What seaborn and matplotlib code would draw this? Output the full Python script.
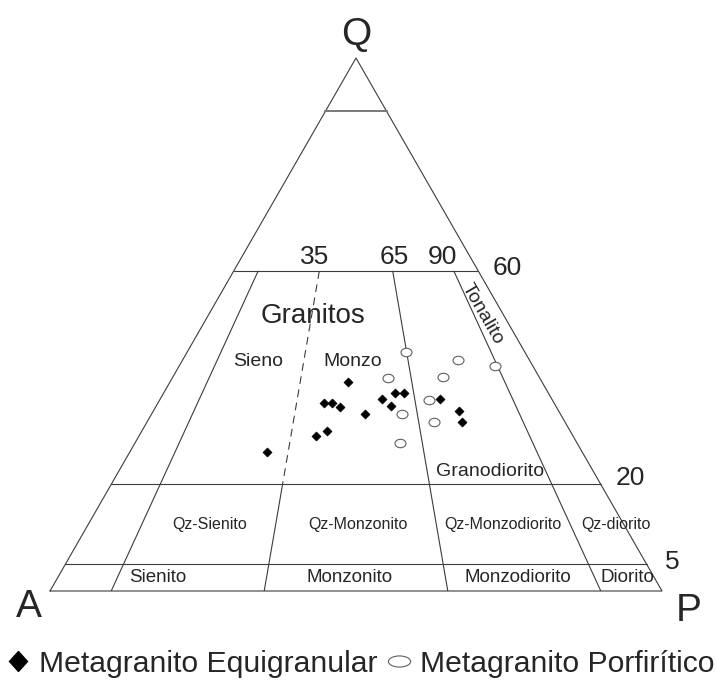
import numpy as np
import pandas as pd
import matplotlib
matplotlib.use('Agg')
import matplotlib.pyplot as plt
from matplotlib.markers import MarkerStyle
from matplotlib.transforms import Affine2D
from matplotlib.lines import Line2D
import seaborn as sns

# ---- data (Q, A, P in %) ----
equi_Q = [39.2, 35.2, 35.2, 34.5, 37.2, 37.2, 36.0, 34.7, 33.2, 29.1, 30.1, 26.0, 36.1, 33.7, 31.8]
equi_A = [31.7, 37.7, 36.3, 35.4, 25.1, 23.6, 27.8, 26.9, 32.0, 42.0, 39.7, 51.6, 18.3, 16.3, 16.8]
equi_P = [29.1, 27.1, 28.5, 30.1, 37.7, 39.2, 36.2, 38.4, 34.8, 28.9, 30.2, 22.4, 45.6, 50.0, 51.4]

porf_Q = [44.8, 43.3, 42.3, 40.0, 40.2, 35.8, 33.3, 31.8, 27.7]
porf_A = [19.4, 11.7, 6.2, 24.7, 15.7, 20.2, 25.8, 21.4, 29.0]
porf_P = [35.8, 45.0, 51.5, 35.3, 44.1, 44.0, 40.9, 46.8, 43.3]

series = ['Metagranito Equigranular', 'Metagranito Porfirítico']

# field boundaries of the QAP diagram
q_levels = [90, 60, 20, 5]          # horizontal lines (% Q)
ratio_levels = [10, 35, 65, 90]     # 100*P/(A+P), drawn below Q=60

H = np.sqrt(3) / 2


def tern(q, a, p):
    q, a, p = np.asarray(q, float), np.asarray(a, float), np.asarray(p, float)
    s = q + a + p
    return (p + q / 2) / s, q / s * H


def qr_point(q, r):
    # point at Q=q (%) with P/(A+P)=r (%)
    q = q / 100
    p = r / 100 * (1 - q)
    return p + q / 2, q * H


sns.set_style('white')
plt.rcParams['font.family'] = ['Liberation Sans', 'DejaVu Sans']

W, Hpx = 716, 682
fig = plt.figure(figsize=(W / 100, Hpx / 100), dpi=100)
ax = fig.add_axes([50 / W, (Hpx - 591) / Hpx, 612 / W, 533 / Hpx])

lc = '#3c3c3c'
lw = 0.8
# triangle
ax.plot([0, 1, 0.5, 0], [0, 0, H, 0], color=lc, lw=lw, clip_on=False)
# horizontal Q lines
for q in q_levels:
    x0, y0 = qr_point(q, 0)
    x1, y1 = qr_point(q, 100)
    if q == 90:
        ax.plot([x0, x1], [y0, y1], color='#707070', lw=1.3)
    else:
        ax.plot([x0, x1], [y0, y1], color=lc, lw=lw)
# P/(A+P) lines
for r in ratio_levels:
    if r == 35:
        xa, ya = qr_point(60, r)
        xb, yb = qr_point(20, r)
        ax.plot([xa, xb], [ya, yb], color=lc, lw=lw, linestyle=(0, (7, 5)))
        xa, ya = qr_point(20, r)
        xb, yb = qr_point(0, r)
        ax.plot([xa, xb], [ya, yb], color=lc, lw=lw)
    else:
        xa, ya = qr_point(60, r)
        xb, yb = qr_point(0, r)
        ax.plot([xa, xb], [ya, yb], color=lc, lw=lw)

# samples
ex, ey = tern(equi_Q, equi_A, equi_P)
px, py = tern(porf_Q, porf_A, porf_P)
df_e = pd.DataFrame({'x': ex, 'y': ey, 'grupo': series[0]})
df_p = pd.DataFrame({'x': px, 'y': py, 'grupo': series[1]})

ell = MarkerStyle('o', transform=Affine2D().scale(1.3, 1.0))
sns.scatterplot(data=df_p, x='x', y='y', ax=ax, marker=ell, s=37,
                facecolor='white', edgecolor='#606060', linewidth=0.8, legend=False, zorder=3)
sns.scatterplot(data=df_e, x='x', y='y', ax=ax, marker='D', s=21,
                color='black', edgecolor='black', linewidth=0.5, legend=False, zorder=4)
ax.set_xlim(0, 1)
ax.set_ylim(0, H)
ax.axis('off')


def put(x, y, s, size, **kw):
    fig.text(x / W, 1 - y / Hpx, s, fontsize=size, ha='center', va='center', **kw)


# apices
put(356, 35, 'Q', 28)
put(29, 607, 'A', 28)
put(689, 611, 'P', 28)
# level labels
put(315, 257, '35', 19)
put(394, 257, '65', 19)
put(442, 257, '90', 19)
put(507, 268, '60', 19)
put(630, 478, '20', 19)
put(672, 562, '5', 19)
# field names
put(313, 316, 'Granitos', 20)
put(258, 361, 'Sieno', 14)
put(353, 361, 'Monzo', 14)
put(482, 314, 'Tonalito', 14, rotation=-60)
put(490, 472, 'Granodiorito', 14)
put(210, 524, 'Qz-Sienito', 11.5)
put(358, 524, 'Qz-Monzonito', 11.5)
put(503, 524, 'Qz-Monzodiorito', 11.5)
put(616, 525, 'Qz-diorito', 11.5)
put(158, 578, 'Sienito', 13.5)
put(350, 577, 'Monzonito', 13.5)
put(518, 578, 'Monzodiorito', 13.5)
put(627, 577, 'Diorito', 13.5)

# legend
h_e = Line2D([], [], linestyle='None', marker=MarkerStyle('D', transform=Affine2D().scale(0.87, 1.0)),
             markersize=10, color='black')
h_p = Line2D([], [], linestyle='None', marker=MarkerStyle('o', transform=Affine2D().scale(1.0, 0.5)),
             markersize=16, markerfacecolor='white', markeredgecolor='#606060', markeredgewidth=0.8)
fig.legend([h_e, h_p], series, loc='center', bbox_to_anchor=(360 / W, 1 - 664 / Hpx), ncol=2,
           frameon=False, fontsize=21.7, handlelength=0.8, handletextpad=0.3,
           columnspacing=0.3, borderpad=0, borderaxespad=0)

fig.savefig('out.png', dpi=100, facecolor='white')
